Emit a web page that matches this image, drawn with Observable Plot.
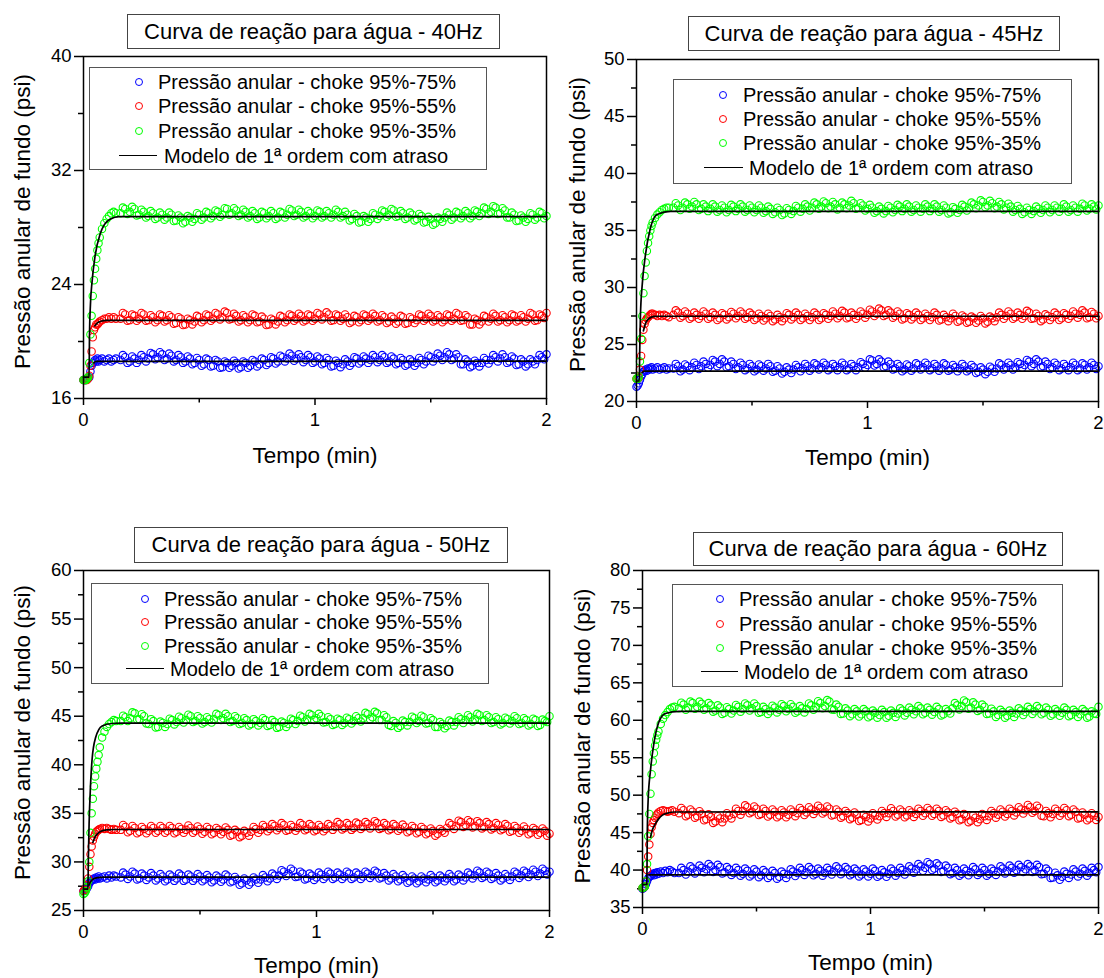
<!DOCTYPE html>
<html>
<head>
<meta charset="utf-8">
<script src="https://cdn.jsdelivr.net/npm/d3@7"></script>
<script src="https://cdn.jsdelivr.net/npm/@observablehq/plot@0.6"></script>
<style>
  body { margin: 0; background: #fff; }
  #root { position: relative; width: 1104px; height: 978px; background: #fff; font-family: 'Liberation Sans', Arial, sans-serif; color: #000; overflow: hidden; }
  .titulo { position: absolute; box-sizing: border-box; border: 1.5px solid #444; display: flex; align-items: center; justify-content: center; font-size: 22px; white-space: nowrap; }
  .legenda { position: absolute; box-sizing: border-box; border: 1.5px solid #555; }
  .ltxt { position: absolute; font-size: 20px; line-height: 24px; white-space: nowrap; }
  .lsym { position: absolute; box-sizing: border-box; width: 8px; height: 8px; border-radius: 50%; border: 1px solid; }
  .lline { position: absolute; height: 0; border-top: 1.6px solid #000; }
</style>
</head>
<body>
<div id="root"></div>
<script>
// ---------- sample times (min) ----------
const tempo = [0,0.005,0.01,0.015,0.02,0.025,0.03,0.035,0.04,0.045,0.05,0.055,0.06,0.065,0.07,0.08,0.09,0.1,0.11,0.12,0.13,0.14,
 0.16,0.18,0.20,0.22,0.24,0.26,0.28,0.30,0.32,0.34,
 0.36,0.38,0.40,0.42,0.44,0.46,0.48,0.50,0.52,0.54,
 0.56,0.58,0.60,0.62,0.64,0.66,0.68,0.70,0.72,0.74,
 0.76,0.78,0.80,0.82,0.84,0.86,0.88,0.90,0.92,0.94,
 0.96,0.98,1.00,1.02,1.04,1.06,1.08,1.10,1.12,1.14,
 1.16,1.18,1.20,1.22,1.24,1.26,1.28,1.30,1.32,1.34,
 1.36,1.38,1.40,1.42,1.44,1.46,1.48,1.50,1.52,1.54,
 1.56,1.58,1.60,1.62,1.64,1.66,1.68,1.70,1.72,1.74,
 1.76,1.78,1.80,1.82,1.84,1.86,1.88,1.90,1.92,1.94,
 1.96,1.98,2.00];
const tempoB = [0.17,0.19,0.21,0.23,0.25,0.27,0.29,0.31,0.33,0.35,
 0.37,0.39,0.41,0.43,0.45,0.47,0.49,0.51,0.53,0.55,
 0.57,0.59,0.61,0.63,0.65,0.67,0.69,0.71,0.73,0.75,
 0.77,0.79,0.81,0.83,0.85,0.87,0.89,0.91,0.93,0.95,
 0.97,0.99,1.01,1.03,1.05,1.07,1.09,1.11,1.13,1.15,
 1.17,1.19,1.21,1.23,1.25,1.27,1.29,1.31,1.33,1.35,
 1.37,1.39,1.41,1.43,1.45,1.47,1.49,1.51,1.53,1.55,
 1.57,1.59,1.61,1.63,1.65,1.67,1.69,1.71,1.73,1.75,
 1.77,1.79,1.81,1.83,1.85,1.87,1.89,1.91,1.93,1.95,
 1.97,1.99];

// ---------- 40 Hz ----------
const p40_75 = [17.3,17.3,17.3,17.4,17.4,17.5,17.9,18.3,18.5,18.6,18.7,18.6,18.8,18.6,18.7,18.8,18.6,18.7,18.8,18.6,18.7,18.8,
 18.7,18.9,18.6,18.8,18.7,18.9,18.8,19.1,18.9,19.1, 18.8,19.0,18.7,18.9,18.6,18.8,18.5,18.7,18.4,18.7,
 18.3,18.6,18.2,18.5,18.3,18.5,18.2,18.5,18.3,18.6, 18.4,18.7,18.5,18.8,18.6,18.9,18.8,19.0,18.8,18.9,
 18.7,18.9,18.6,18.8,18.5,18.7,18.3,18.5,18.4,18.6, 18.5,18.8,18.6,18.8,18.7,18.9,18.7,18.9,18.6,18.8,
 18.5,18.7,18.4,18.6,18.5,18.7,18.6,18.9,18.8,19.0, 18.9,19.1,18.8,18.9,18.4,18.6,18.3,18.5,18.5,18.7,
 18.7,18.9,18.8,18.9,18.6,18.8,18.4,18.6,18.4,18.6, 18.7,18.9,19.1];
const b40_75 = [19.05,18.5,18.95,18.5,19.05,18.6,19.2,18.75,19.25,18.7, 19.15,18.6,19.05,18.5,18.95,18.4,18.85,18.3,18.8,18.25,
 18.7,18.15,18.6,18.15,18.65,18.1,18.6,18.15,18.7,18.25, 18.8,18.35,18.9,18.45,19.0,18.6,19.15,18.65,19.1,18.55,
 19.05,18.5,18.95,18.4,18.85,18.25,18.65,18.2,18.75,18.3, 18.9,18.45,18.95,18.5,19.05,18.55,19.05,18.5,18.95,18.4,
 18.85,18.3,18.75,18.3,18.85,18.4,19.0,18.6,19.15,18.7, 19.25,18.7,19.1,18.4,18.75,18.2,18.65,18.25,18.85,18.45,
 19.05,18.6,19.1,18.5,18.95,18.35,18.75,18.25,18.75,18.4, 19.05,18.75];
const p40_55 = [17.3,17.3,17.3,17.3,17.4,17.6,18.3,19.3,20.3,20.8,21.0,21.2,21.2,21.3,21.4,21.5,21.6,21.6,21.7,21.6,21.7,21.6,
 21.6,21.9,21.5,21.8,21.6,21.9,21.5,21.7,21.5,21.8, 21.5,21.7,21.3,21.6,21.2,21.5,21.4,21.7,21.5,21.8,
 21.6,21.9,21.7,22.0,21.6,21.8,21.5,21.7,21.5,21.8, 21.4,21.6,21.2,21.5,21.4,21.7,21.5,21.8,21.6,21.8,
 21.5,21.8,21.6,21.9,21.7,21.9,21.5,21.8,21.6,21.7, 21.4,21.7,21.5,21.8,21.6,21.8,21.5,21.7,21.4,21.6,
 21.4,21.7,21.3,21.6,21.5,21.8,21.6,21.8,21.5,21.7, 21.5,21.8,21.6,21.9,21.5,21.7,21.2,21.5,21.4,21.7,
 21.6,21.8,21.5,21.7,21.5,21.8,21.5,21.7,21.6,21.9, 21.5,21.8,22.0];
const b40_55 = [22.0,21.45,21.9,21.45,22.0,21.45,21.85,21.35,21.9,21.4, 21.85,21.25,21.7,21.15,21.6,21.2,21.8,21.35,21.9,21.45,
 22.0,21.55,22.1,21.55,21.95,21.4,21.85,21.35,21.9,21.35, 21.75,21.15,21.6,21.2,21.8,21.35,21.9,21.45,21.95,21.4,
 21.9,21.45,22.0,21.55,22.05,21.45,21.9,21.45,21.9,21.3, 21.8,21.35,21.9,21.45,21.95,21.4,21.85,21.3,21.75,21.25,
 21.8,21.25,21.7,21.3,21.9,21.45,21.95,21.4,21.85,21.35, 21.9,21.45,22.0,21.45,21.85,21.2,21.6,21.2,21.8,21.4,
 21.95,21.4,21.85,21.35,21.9,21.4,21.85,21.4,22.0,21.45, 21.9,21.65];
const p40_35 = [17.3,17.3,17.3,17.4,17.5,18.5,20.5,21.8,23.2,24.3,25.1,25.8,26.4,26.9,27.3,27.9,28.3,28.6,28.8,29.0,29.1,29.0,
 29.0,29.3,29.1,29.3,28.9,29.1,28.8,29.0,28.7,28.9, 28.7,28.9,28.5,28.7,28.4,28.7,28.6,28.9,28.7,29.0,
 28.8,29.1,28.9,29.3,29.0,29.2,28.9,29.1,28.8,29.0, 28.7,29.0,28.8,29.0,28.7,29.0,28.9,29.2,28.9,29.1,
 28.8,29.0,28.8,29.1,28.8,29.0,28.9,29.1,28.8,28.9, 28.6,28.8,28.4,28.7,28.6,28.9,28.8,29.1,28.9,29.2,
 28.8,29.0,28.7,28.9,28.6,28.8,28.4,28.6,28.3,28.6, 28.7,28.9,28.7,29.0,28.8,29.0,28.8,29.1,29.0,29.3,
 29.1,29.4,29.0,29.2,28.7,28.9,28.5,28.7,28.6,28.9, 28.7,29.0,28.8];
const b40_35 = [29.4,28.95,29.45,28.85,29.25,28.7,29.15,28.6,29.05,28.55, 29.05,28.45,28.85,28.3,28.8,28.4,29.0,28.55,29.1,28.65,
 29.2,28.75,29.35,28.9,29.35,28.8,29.25,28.7,29.15,28.6, 29.1,28.65,29.15,28.6,29.1,28.7,29.3,28.8,29.25,28.7,
 29.15,28.65,29.2,28.7,29.15,28.7,29.25,28.7,29.1,28.5, 28.95,28.35,28.8,28.4,29.0,28.6,29.2,28.75,29.3,28.75,
 29.15,28.6,29.05,28.5,28.95,28.35,28.75,28.2,28.7,28.4, 29.05,28.55,29.1,28.65,29.15,28.65,29.2,28.8,29.4,28.95,
 29.5,28.95,29.35,28.7,29.05,28.45,28.85,28.4,29.0,28.55, 29.1,28.65];
const m40_75 = [[0.045,18.5],[0.055,18.6],[2,18.62]];
const m40_55 = [[0.049,21.1],[0.06,21.3],[0.075,21.42],[0.1,21.48],[2,21.48]];
const m40_35 = [[0,17.5],[0.024,17.5],[0.026,20.5],[0.03,22.6],[0.037,24.2],[0.05,26.0],[0.073,27.6],[0.09,28.2],[0.117,28.6],[0.153,28.77],[2,28.77]];
const y40 = [16,24,32,40], y40m = [20,28,36];

// ---------- 45 Hz ----------
const p45_75 = [21.3,21.4,21.6,21.9,22.2,22.4,22.6,22.7,22.8,22.7,22.9,22.8,22.9,23.0,22.8,22.9,23.0,22.8,22.9,23.0,22.8,22.9,
 22.9,23.1,22.8,23.1,23.0,23.2,23.1,23.3,23.2,23.5, 23.3,23.5,23.1,23.3,23.0,23.2,22.9,23.1,22.8,23.1,
 22.9,23.1,22.7,22.9,22.6,22.8,22.8,23.0,22.9,23.1, 22.9,23.2,23.0,23.2,22.9,23.1,23.0,23.2,22.9,23.1,
 23.0,23.3,23.2,23.6,23.3,23.5,23.1,23.3,22.9,23.1, 22.8,23.1,22.9,23.2,23.0,23.2,22.9,23.1,22.9,23.2,
 22.8,23.0,22.9,23.1,22.8,23.0,22.6,22.8,22.6,22.9, 22.9,23.2,23.0,23.2,23.0,23.3,23.2,23.5,23.3,23.5,
 23.1,23.3,23.0,23.2,22.9,23.1,23.0,23.2,22.9,23.2, 23.0,23.2,23.1];
const b45_75 = [23.3,22.65,23.25,22.75,23.4,22.85,23.5,22.95,23.65,23.1, 23.7,23.0,23.5,22.85,23.4,22.75,23.3,22.65,23.25,22.7,
 23.3,22.6,23.1,22.45,23.0,22.5,23.2,22.65,23.3,22.7, 23.35,22.8,23.4,22.75,23.3,22.75,23.4,22.75,23.3,22.75,
 23.45,22.95,23.7,23.15,23.7,23.0,23.5,22.8,23.3,22.65, 23.25,22.7,23.35,22.8,23.4,22.75,23.3,22.7,23.35,22.7,
 23.2,22.65,23.3,22.65,23.2,22.5,23.0,22.4,23.05,22.6, 23.35,22.8,23.4,22.8,23.45,22.95,23.65,23.1,23.7,23.0,
 23.5,22.85,23.4,22.75,23.3,22.75,23.4,22.75,23.35,22.8, 23.4,22.85];
const p45_55 = [22.0,22.0,22.1,22.8,24.0,25.4,26.3,26.8,27.1,27.3,27.4,27.5,27.6,27.7,27.7,27.6,27.5,27.6,27.5,27.6,27.5,27.4,
 27.6,27.8,27.5,27.7,27.4,27.6,27.5,27.7,27.4,27.6, 27.3,27.6,27.4,27.7,27.5,27.7,27.4,27.6,27.3,27.5,
 27.3,27.5,27.2,27.4,27.3,27.6,27.4,27.6,27.3,27.5, 27.4,27.6,27.3,27.6,27.5,27.7,27.5,27.8,27.4,27.6,
 27.5,27.7,27.6,27.9,27.7,28.0,27.6,27.8,27.5,27.7, 27.3,27.6,27.4,27.6,27.3,27.5,27.4,27.6,27.2,27.4,
 27.3,27.5,27.1,27.4,27.0,27.3,27.1,27.3,27.0,27.3, 27.4,27.6,27.5,27.7,27.4,27.6,27.5,27.8,27.3,27.5,
 27.2,27.5,27.4,27.6,27.3,27.6,27.5,27.7,27.6,27.8, 27.4,27.7,27.5];
const b45_55 = [28.0,27.35,27.9,27.25,27.8,27.25,27.9,27.25,27.8,27.15, 27.75,27.2,27.85,27.3,27.9,27.25,27.8,27.15,27.7,27.1,
 27.7,27.05,27.6,27.05,27.75,27.2,27.8,27.15,27.7,27.15, 27.8,27.15,27.75,27.25,27.9,27.3,27.95,27.3,27.8,27.25,
 27.9,27.35,28.05,27.5,28.15,27.5,28.0,27.35,27.9,27.2, 27.75,27.2,27.8,27.15,27.7,27.15,27.8,27.1,27.6,27.05,
 27.7,27.0,27.55,26.9,27.45,26.9,27.5,26.85,27.45,27.05, 27.8,27.25,27.9,27.25,27.8,27.25,27.95,27.25,27.7,27.05,
 27.65,27.15,27.8,27.15,27.75,27.25,27.9,27.35,28.0,27.3, 27.85,27.3];
const p45_35 = [22.0,22.0,22.2,23.5,25.5,27.5,29.5,31.0,32.2,33.2,33.9,34.5,35.0,35.4,35.7,36.1,36.4,36.6,36.8,36.9,37.0,37.0,
 37.0,37.2,37.0,37.3,37.1,37.3,36.9,37.1,36.9,37.1, 36.8,37.0,36.8,37.1,36.9,37.1,36.8,37.0,36.8,37.0,
 36.7,36.9,36.6,36.8,36.5,36.8,36.7,37.0,36.9,37.1, 37.0,37.3,37.1,37.4,37.1,37.3,37.0,37.3,37.2,37.4,
 37.0,37.2,36.9,37.0,36.7,36.9,36.7,37.0,36.8,37.1, 36.9,37.1,36.8,37.0,36.9,37.1,36.9,37.1,36.8,37.0,
 36.6,36.9,36.8,37.1,37.0,37.3,37.2,37.5,37.2,37.4, 37.1,37.3,37.0,37.1,36.8,36.9,36.6,36.8,36.7,36.9,
 36.8,37.0,36.8,37.0,36.9,37.1,36.8,37.0,36.9,37.2, 36.9,37.1,37.2];
const b45_35 = [37.4,36.8,37.45,36.9,37.5,36.8,37.3,36.7,37.3,36.65, 37.2,36.6,37.25,36.7,37.3,36.65,37.2,36.6,37.2,36.55,
 37.1,36.45,37.0,36.35,36.95,36.45,37.15,36.65,37.3,36.75, 37.45,36.9,37.55,36.95,37.5,36.85,37.45,36.95,37.6,36.9,
 37.4,36.75,37.25,36.55,37.1,36.5,37.15,36.6,37.25,36.7, 37.3,36.65,37.2,36.65,37.3,36.7,37.3,36.65,37.2,36.5,
 37.05,36.55,37.25,36.75,37.45,36.95,37.65,37.05,37.6,36.95, 37.5,36.85,37.35,36.65,37.15,36.45,37.0,36.45,37.1,36.55,
 37.2,36.6,37.2,36.65,37.3,36.65,37.2,36.65,37.35,36.75, 37.3,36.85];
const m45_75 = [[0.025,22.55],[0.035,22.66],[2,22.66]];
const m45_55 = [[0.03,26.2],[0.04,26.9],[0.05,27.2],[0.065,27.4],[0.08,27.46],[0.1,27.48],[2,27.48]];
const m45_35 = [[0,21.8],[0.012,21.8],[0.014,24.5],[0.017,27.5],[0.025,30.3],[0.039,32.9],[0.06,35.2],[0.089,36.4],[0.147,36.67],[2,36.67]];
const y45 = [20,25,30,35,40,45,50], y45m = [22.5,27.5,32.5,37.5,42.5,47.5];

// ---------- 50 Hz ----------
const p50_75 = [27.0,27.1,27.2,27.3,27.5,27.8,28.0,28.1,28.2,28.3,28.2,28.4,28.3,28.5,28.3,28.4,28.5,28.3,28.6,28.4,28.6,28.5,
 28.4,28.7,28.5,28.8,28.3,28.6,28.4,28.6,28.3,28.5, 28.2,28.5,28.3,28.6,28.2,28.5,28.3,28.5,28.2,28.4,
 28.1,28.4,28.2,28.5,28.0,28.2,27.8,28.1,27.9,28.2, 28.2,28.4,28.3,28.6,28.6,29.0,28.8,29.1,28.5,28.8,
 28.3,28.6,28.4,28.7,28.5,28.8,28.4,28.7,28.5,28.8, 28.4,28.7,28.5,28.8,28.6,28.9,28.4,28.6,28.3,28.5,
 28.2,28.4,28.0,28.3,28.0,28.3,28.2,28.4,28.1,28.4, 28.3,28.5,28.2,28.5,28.4,28.7,28.6,28.9,28.5,28.8,
 28.4,28.6,28.3,28.5,28.5,28.8,28.6,28.9,28.7,29.0, 28.8,29.1,29.0];
const b50_75 = [28.9,28.25,29.0,28.2,28.8,28.15,28.85,28.1,28.75,28.0, 28.7,28.05,28.8,28.05,28.7,28.05,28.75,28.0,28.65,27.9,
 28.6,27.95,28.7,27.9,28.45,27.65,28.3,27.65,28.4,27.85, 28.65,28.0,28.8,28.25,29.15,28.55,29.3,28.45,29.0,28.2,
 28.8,28.15,28.9,28.25,29.0,28.25,28.9,28.25,29.0,28.25, 28.9,28.25,29.0,28.35,29.1,28.3,28.85,28.1,28.75,28.0,
 28.65,27.85,28.5,27.8,28.5,27.9,28.65,27.9,28.6,28.0, 28.75,28.0,28.7,28.1,28.9,28.3,29.1,28.35,29.0,28.25,
 28.85,28.1,28.75,28.15,29.0,28.35,29.1,28.45,29.2,28.55, 29.3,28.7];
const p50_55 = [27.0,27.1,27.3,27.6,28.3,29.5,30.8,31.6,32.2,32.6,32.9,33.1,33.2,33.3,33.4,33.5,33.4,33.5,33.4,33.3,33.4,33.3,
 33.3,33.6,33.2,33.5,33.1,33.4,33.2,33.5,33.2,33.5, 33.2,33.5,33.1,33.4,33.3,33.5,33.2,33.4,33.1,33.4,
 33.0,33.3,33.1,33.3,32.8,33.1,32.7,33.0,33.1,33.4, 33.3,33.6,33.4,33.7,33.5,33.8,33.3,33.6,33.5,33.8,
 33.4,33.7,33.3,33.6,33.4,33.7,33.6,33.9,33.5,33.8, 33.5,33.9,33.6,33.9,33.7,34.0,33.5,33.8,33.4,33.7,
 33.4,33.6,33.2,33.5,33.1,33.4,33.0,33.2,32.9,33.2, 33.5,33.8,33.7,34.1,33.8,34.1,33.7,34.0,33.6,33.9,
 33.5,33.8,33.4,33.7,33.2,33.5,33.2,33.4,33.0,33.3, 33.0,33.2,32.9];
const b50_55 = [33.8,33.05,33.7,32.95,33.6,32.95,33.7,33.0,33.7,33.0, 33.7,32.95,33.6,33.0,33.75,33.0,33.65,32.9,33.6,32.85,
 33.5,32.85,33.55,32.7,33.3,32.55,33.2,32.7,33.6,33.0, 33.8,33.15,33.9,33.25,34.0,33.2,33.8,33.2,34.0,33.25,
 33.9,33.15,33.8,33.15,33.9,33.3,34.1,33.35,34.0,33.3, 34.05,33.4,34.1,33.45,34.2,33.4,34.0,33.25,33.9,33.2,
 33.85,33.05,33.7,32.95,33.6,32.85,33.45,32.7,33.4,33.0, 34.0,33.4,34.25,33.6,34.3,33.55,34.2,33.45,34.1,33.35,
 34.0,33.25,33.9,33.1,33.7,33.0,33.65,32.85,33.5,32.8, 33.45,32.7];
const p50_35 = [26.7,26.8,27.0,27.4,28.0,30.0,33.0,35.0,36.5,37.8,38.8,39.6,40.3,41.0,41.8,42.8,43.4,43.9,44.2,44.4,44.6,44.5,
 44.5,44.9,44.8,45.3,44.7,45.0,44.2,44.5,43.9,44.3, 44.2,44.6,44.4,44.8,44.6,45.0,44.5,44.8,44.4,44.7,
 44.7,45.1,44.8,45.0,44.5,44.8,44.3,44.6,44.2,44.5, 44.3,44.6,44.1,44.4,43.9,44.3,44.2,44.6,44.5,44.9,
 44.7,45.1,44.8,45.0,44.4,44.7,44.2,44.6,44.3,44.7, 44.5,44.8,44.8,45.2,44.9,45.3,44.6,44.9,44.0,44.3,
 44.0,44.4,44.4,44.8,44.5,44.9,44.3,44.6,43.9,44.2, 44.0,44.4,44.4,44.7,44.6,44.9,44.7,45.1,44.6,44.9,
 44.4,44.7,44.3,44.7,44.5,44.8,44.3,44.6,44.2,44.6, 44.1,44.5,45.0];
const b50_35 = [45.05,44.5,45.4,44.65,45.2,44.25,44.7,43.85,44.45,43.9, 44.75,44.15,44.95,44.35,45.15,44.4,45.0,44.25,44.9,44.35,
 45.25,44.6,45.25,44.4,45.0,44.2,44.8,44.05,44.7,44.05, 44.8,44.0,44.6,43.8,44.45,43.9,44.75,44.2,45.05,44.45,
 45.25,44.6,45.25,44.35,44.9,44.1,44.75,44.1,44.85,44.25, 45.0,44.45,45.35,44.7,45.45,44.6,45.1,44.1,44.5,43.8,
 44.55,44.05,44.95,44.3,45.05,44.25,44.8,43.9,44.4,43.75, 44.55,44.05,44.9,44.3,45.1,44.45,45.25,44.5,45.1,44.3,
 44.9,44.15,44.85,44.25,45.0,44.2,44.8,44.05,44.75,44.0, 44.65,44.4];
const m50_75 = [[0.023,27.6],[0.03,27.95],[0.044,28.26],[0.06,28.38],[0.09,28.43],[2,28.43]];
const m50_55 = [[0.04,32.0],[0.05,32.6],[0.06,32.9],[0.075,33.15],[0.1,33.3],[0.13,33.34],[2,33.34]];
const m50_35 = [[0,27.2],[0.019,27.2],[0.021,30.5],[0.024,33.9],[0.03,37.8],[0.037,40.6],[0.052,42.8],[0.08,44.0],[0.123,44.25],[0.16,44.28],[2,44.28]];
const y50 = [25,30,35,40,45,50,55,60], y50m = [27.5,32.5,37.5,42.5,47.5,52.5,57.5];

// ---------- 60 Hz ----------
const p60_75 = [37.5,37.6,37.8,38.1,38.5,38.9,39.1,39.2,39.3,39.5,39.3,39.6,39.4,39.7,39.5,39.8,39.6,39.9,39.7,40.0,39.8,39.6,
 39.6,40.0,39.8,40.2,39.9,40.3,40.1,40.5,40.0,40.4, 39.7,40.1,39.6,40.0,39.5,39.9,39.4,39.8,39.3,39.7,
 39.2,39.6,39.1,39.5,39.4,39.8,39.6,40.0,39.7,40.1, 39.5,39.9,39.6,40.0,39.8,40.2,39.7,40.1,39.5,39.9,
 39.4,39.8,39.5,39.9,39.3,39.7,39.5,39.9,39.6,40.0, 39.8,40.2,40.1,40.5,40.3,40.8,40.2,40.6,39.9,40.3,
 39.6,40.0,39.5,39.9,39.7,40.1,39.6,40.0,39.5,39.9, 39.8,40.2,39.9,40.3,40.0,40.4,40.1,40.5,40.0,40.4,
 39.5,39.9,39.0,39.3,39.1,39.5,39.4,39.8,39.5,39.9, 39.6,40.0,40.4];
const b60_75 = [40.3,39.4,40.5,39.55,40.6,39.7,40.8,39.75,40.7,39.55, 40.4,39.35,40.3,39.25,40.2,39.15,40.1,39.05,40.0,38.95,
 39.9,38.85,39.8,38.95,40.1,39.2,40.3,39.35,40.4,39.3, 40.2,39.25,40.3,39.4,40.5,39.45,40.4,39.3,40.2,39.15,
 40.1,39.15,40.2,39.1,40.0,39.1,40.2,39.25,40.3,39.4, 40.5,39.65,40.8,39.9,41.05,40.0,40.9,39.75,40.6,39.45,
 40.3,39.25,40.2,39.3,40.4,39.35,40.3,39.25,40.2,39.35, 40.5,39.55,40.6,39.65,40.7,39.75,40.8,39.75,40.7,39.45,
 40.2,38.95,39.65,38.7,39.8,38.95,40.1,39.15,40.2,39.25, 40.3,39.7];
const p60_55 = [37.6,37.7,37.8,38.5,40.0,41.8,43.4,44.8,45.7,46.3,46.7,47.0,47.3,47.5,47.7,47.9,48.0,47.9,47.8,47.9,48.0,47.8,
 47.6,48.0,47.4,47.8,47.2,47.5,46.8,47.1,46.5,46.9, 46.9,47.3,47.5,47.9,47.9,48.4,47.8,48.2,47.5,47.9,
 47.4,47.8,47.3,47.7,47.4,47.8,47.6,48.0,47.7,48.1, 47.9,48.3,47.8,48.2,47.4,47.8,47.2,47.6,47.0,47.4,
 46.7,47.1,46.9,47.3,47.2,47.6,47.6,47.9,47.4,47.8, 47.3,47.7,47.5,47.9,47.6,48.0,47.5,47.9,47.3,47.7,
 47.1,47.5,46.8,47.2,46.6,47.0,46.8,47.2,47.2,47.6, 47.4,47.8,47.5,47.9,47.7,48.1,48.0,48.4,47.9,48.3,
 47.2,47.6,47.5,47.9,47.6,48.0,47.4,47.8,47.0,47.4, 46.9,47.3,47.1];
const b60_55 = [48.3,47.2,48.1,47.0,47.85,46.65,47.45,46.3,47.2,46.4, 47.6,46.9,48.2,47.4,48.65,47.6,48.5,47.35,48.2,47.15,
 48.1,47.05,48.0,47.05,48.1,47.2,48.3,47.35,48.4,47.5, 48.6,47.55,48.5,47.3,48.1,47.0,47.9,46.8,47.7,46.55,
 47.4,46.5,47.6,46.75,47.9,47.1,48.25,47.15,48.1,47.05, 48.0,47.1,48.2,47.25,48.3,47.25,48.2,47.1,48.0,46.9,
 47.8,46.65,47.5,46.4,47.3,46.4,47.5,46.7,47.9,47.0, 48.1,47.15,48.2,47.3,48.4,47.55,48.7,47.65,48.6,47.25,
 47.9,47.05,48.2,47.25,48.3,47.2,48.1,46.9,47.7,46.65, 47.6,46.7];
const p60_35 = [37.6,37.7,37.8,38.5,40.8,44.5,47.5,50.2,52.8,54.5,55.6,56.6,57.4,58.0,58.5,59.5,60.2,60.7,61.1,61.5,61.7,61.8,
 61.6,62.1,61.7,62.3,61.8,62.2,61.6,62.0,61.3,61.7, 61.0,61.5,61.3,61.8,61.5,62.0,61.6,61.9,61.1,61.5,
 61.2,61.7,61.4,61.9,61.5,61.8,61.2,61.6,61.5,62.0, 61.8,62.3,61.9,62.5,61.4,61.8,60.9,61.3,60.8,61.2,
 60.8,61.2,60.6,61.0,60.7,61.1,60.6,61.0,60.9,61.3, 61.0,61.4,61.2,61.6,61.0,61.4,61.1,61.5,60.8,61.2,
 61.6,62.0,61.9,62.4,61.7,62.1,61.4,61.8,60.9,61.2, 60.7,61.1,60.6,61.0,60.9,61.3,61.1,61.5,61.2,61.6,
 61.0,61.4,60.8,61.2,61.0,61.4,60.7,61.1,60.8,61.2, 60.5,60.9,61.8];
const b60_35 = [62.35,61.4,62.5,61.55,62.5,61.4,62.3,61.15,62.0,60.85, 61.75,60.9,62.05,61.15,62.25,61.3,62.25,61.0,61.8,60.85,
 61.95,61.05,62.15,61.2,62.15,61.0,61.9,61.05,62.25,61.4, 62.55,61.6,62.7,61.45,62.1,60.85,61.6,60.55,61.5,60.5,
 61.5,60.4,61.3,60.35,61.4,60.35,61.3,60.45,61.6,60.65, 61.7,60.8,61.9,60.8,61.7,60.75,61.8,60.65,61.5,60.9,
 62.3,61.45,62.65,61.55,62.4,61.25,62.1,60.85,61.55,60.45, 61.4,60.35,61.3,60.45,61.6,60.7,61.8,60.85,61.9,60.8,
 61.7,60.6,61.5,60.6,61.7,60.55,61.4,60.45,61.5,60.35, 61.2,60.85];
const m60_75 = [[0.028,39.36],[2,39.36]];
const m60_55 = [[0.035,44.4],[0.045,45.5],[0.057,46.2],[0.07,46.8],[0.086,47.3],[0.11,47.6],[0.14,47.75],[2,47.78]];
const m60_35 = [[0,38.07],[0.019,38.07],[0.021,45.0],[0.025,49.5],[0.035,53.3],[0.05,56.9],[0.071,59.7],[0.1,60.9],[0.16,61.2],[2,61.2]];
const y60 = [35,40,45,50,55,60,65,70,75,80], y60m = [37.5,42.5,47.5,52.5,57.5,62.5,67.5,72.5,77.5];

// ---------- labels ----------
const xTicks = [0,1,2], xTicksMinor = [0.5,1.5];
const rotuloX = "Tempo (min)";
const rotuloY = "Pressão anular de fundo (psi)";
const nomesSeries = ["Pressão anular - choke 95%-75%","Pressão anular - choke 95%-55%","Pressão anular - choke 95%-35%"];
const nomeModelo = "Modelo de 1ª ordem com atraso";
const cores = ["#0000ff","#ff0000","#00ff00"];

// ---------- layout (pixels) ----------
const paineis = [
  {hz:"40Hz", pos:[0,0], m:[56,6,91,83], dom:[16,40], yt:y40, ym:y40m,
   s:[[p40_75,b40_75],[p40_55,b40_55],[p40_35,b40_35]], mod:[m40_75,m40_55,m40_35],
   yl:{dx:-61,dy:-6}, xl:57,
   tit:[127,14,373,35], leg:[89,67,398,103], rows:[82,106,131,156], sym:139, txt:158, ln:[119,157], mtx:164},
  {hz:"45Hz", pos:[552,0], m:[59,6,88,84], dom:[20,50], yt:y45, ym:y45m,
   s:[[p45_75,b45_75],[p45_55,b45_55],[p45_35,b45_35]], mod:[m45_75,m45_55,m45_35],
   yl:{dx:-59,dy:-6}, xl:56,
   tit:[688,16,372,35], leg:[673,79,399,105], rows:[95,119,143,168], sym:723, txt:743, ln:[704,743], mtx:749},
  {hz:"50Hz", pos:[0,489], m:[81,3,68,83], dom:[25,60], yt:y50, ym:y50m,
   s:[[p50_75,b50_75],[p50_55,b50_55],[p50_35,b50_35]], mod:[m50_75,m50_55,m50_35],
   yl:{dx:-61,dy:-8}, xl:55,
   tit:[134,527,374,36], leg:[91,583,398,101], rows:[599,622,646,669], sym:145, txt:164, ln:[126,164], mtx:170},
  {hz:"60Hz", pos:[552,489], m:[81,6,71,90], dom:[35,80], yt:y60, ym:y60m,
   s:[[p60_75,b60_75],[p60_55,b60_55],[p60_35,b60_35]], mod:[m60_75,m60_55,m60_35],
   yl:{dx:-60,dy:-3}, xl:55,
   tit:[693,532,370,34], leg:[672,584,391,103], rows:[599,624,648,672], sym:720, txt:739, ln:[701,738], mtx:744}
];

const root = document.getElementById("root");

function el(cls, css, text) {
  const d = document.createElement("div");
  d.className = cls;
  Object.assign(d.style, css);
  if (text != null) d.textContent = text;
  root.appendChild(d);
  return d;
}

for (const P of paineis) {
  const [mt, mr, mb, ml] = P.m;
  const marks = [
    Plot.axisX({ticks: xTicks, tickSize: 7, tickPadding: 7, fontSize: 18.5, strokeWidth: 1.5, tickFormat: d => String(d), label: null}),
    Plot.axisX({ticks: xTicksMinor, tickSize: 4.5, tickFormat: () => "", strokeWidth: 1.5, label: null}),
    Plot.axisY({ticks: P.yt, tickSize: 9, tickPadding: 3, fontSize: 18.5, strokeWidth: 1.5, tickFormat: d => String(d), label: null}),
    Plot.axisY({ticks: P.ym, tickSize: 5, tickFormat: () => "", strokeWidth: 1.5, label: null}),
  ];
  P.s.forEach(([vals, valsB], k) => {
    const rows = [];
    for (let i = 0; i < tempo.length && i < vals.length; i++) rows.push({t: tempo[i], p: vals[i]});
    for (let i = 0; i < tempoB.length && i < valsB.length; i++) rows.push({t: tempoB[i], p: valsB[i]});
    marks.push(Plot.dot(rows, {x: "t", y: "p", r: 3.7, stroke: cores[k], strokeWidth: 1.1, fill: "none"}));
  });
  P.mod.forEach(m => {
    marks.push(Plot.line(m, {x: d => d[0], y: d => d[1], stroke: "black", strokeWidth: 1.7, curve: "monotone-x"}));
  });
  marks.push(Plot.frame({stroke: "black", strokeWidth: 1.5}));
  marks.push(Plot.text([rotuloX], {text: d => d, frameAnchor: "bottom", dy: P.xl, lineAnchor: "middle", textAnchor: "middle", fontSize: 22.5, fill: "black"}));
  marks.push(Plot.text([rotuloY], {text: d => d, frameAnchor: "left", dx: P.yl.dx, dy: P.yl.dy, rotate: -90, lineAnchor: "middle", textAnchor: "middle", fontSize: 22.5, fill: "black"}));

  const svg = Plot.plot({
    width: 552, height: 489,
    marginTop: mt, marginRight: mr, marginBottom: mb, marginLeft: ml,
    x: {domain: [0, 2], label: null},
    y: {domain: P.dom, label: null},
    style: {fontFamily: "'Liberation Sans', Arial, sans-serif", color: "black", background: "transparent", overflow: "visible"},
    marks
  });
  svg.style.position = "absolute";
  svg.style.left = P.pos[0] + "px";
  svg.style.top = P.pos[1] + "px";
  root.appendChild(svg);

  el("titulo", {left: P.tit[0] + "px", top: P.tit[1] + "px", width: P.tit[2] + "px", height: P.tit[3] + "px"},
     "Curva de reação para água - " + P.hz);

  el("legenda", {left: P.leg[0] + "px", top: P.leg[1] + "px", width: P.leg[2] + "px", height: P.leg[3] + "px"});
  for (let k = 0; k < 3; k++) {
    el("lsym", {left: (P.sym - 4) + "px", top: (P.rows[k] - 4) + "px", borderColor: cores[k]});
    el("ltxt", {left: P.txt + "px", top: (P.rows[k] - 12) + "px"}, nomesSeries[k]);
  }
  el("lline", {left: P.ln[0] + "px", top: (P.rows[3] - 1) + "px", width: (P.ln[1] - P.ln[0]) + "px"});
  el("ltxt", {left: P.mtx + "px", top: (P.rows[3] - 12) + "px"}, nomeModelo);
}
</script>
</body>
</html>
